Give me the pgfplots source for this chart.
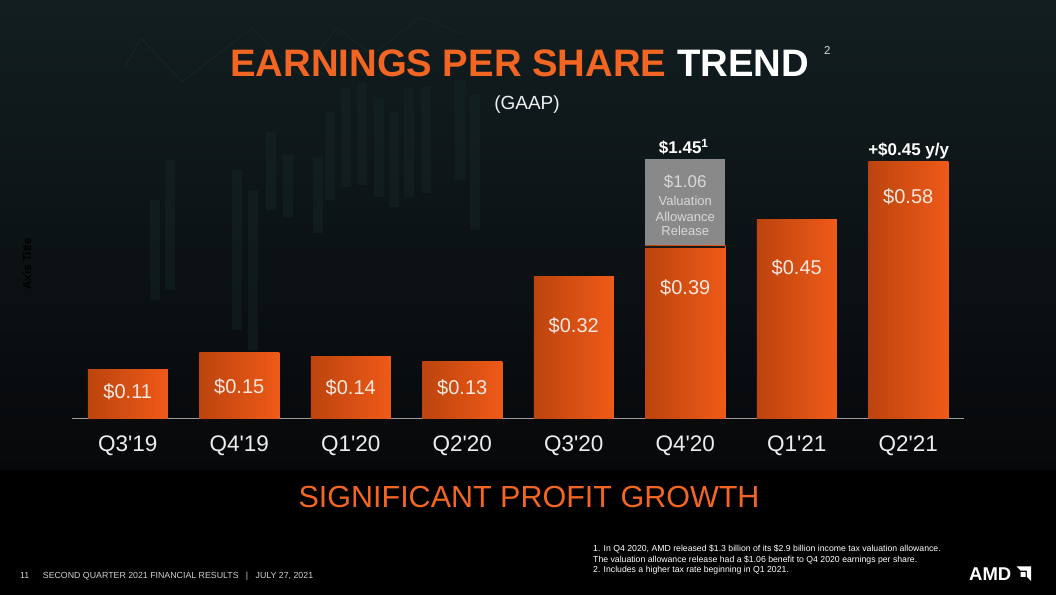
\documentclass[border=0pt]{standalone}
\usepackage{pgfplots}
\pgfplotsset{compat=1.18}
\usepackage{pgfplotstable}
\usepackage{fontspec}
\setmainfont{Liberation Sans}
\definecolor{amdorange}{HTML}{F26522}
\definecolor{barL}{HTML}{BC440E}
\definecolor{barR}{HTML}{EF5A18}
\definecolor{relgray}{HTML}{898989}
\definecolor{reltext}{HTML}{D8D8D8}
\definecolor{lbltext}{HTML}{F7E9E1}
\definecolor{bgtop}{HTML}{121E20}
\definecolor{bgbot}{HTML}{07080A}
\definecolor{candle}{HTML}{172829}
\definecolor{axgray}{HTML}{9C9C9C}
\definecolor{footgray}{HTML}{D0D0D0}
\definecolor{sepc}{HTML}{1A1A1A}
\newcommand\fs[1]{\fontsize{#1bp}{#1bp}\selectfont}

\pgfplotstableread{
x eps lby
0 0.11 0.0445
1 0.15 0.0558
2 0.14 0.0550
3 0.13 0.0550
4 0.32 0.1940
5 0.39 0.2810
6 0.45 0.3266
7 0.58 0.4850
}\epsdata
\pgfplotstableread{
x top
5 0.5864
}\reldata

\begin{document}
\begin{tikzpicture}[x=1bp,y=1bp]
\fill[black] (0,0) rectangle (1056,595);
\shade[top color=bgtop, bottom color=bgbot] (0,125) rectangle (1056,595);
% faint decorative background
\foreach \xa/\ya/\yb in {266/132/210, 283/155/217, 313/157/233, 325/112/200, 341/88/187, 357/83/185, 374/98/197, 389/112/207, 404/88/197, 421/87/193, 455/80/180, 470/95/230, 150/200/300, 165/160/290, 232/170/330, 248/190/350}{
  \fill[candle, opacity=0.4] (\xa,595-\ya) rectangle (\xa+10,595-\yb);
}
\draw[candle, opacity=0.7, line width=1bp] (125,528) -- (141,557) -- (182,513) -- (252,567) -- (300,520) -- (337,567) -- (372,540) -- (420,578) -- (465,560);

\begin{axis}[
  at={(72bp,176.3bp)}, anchor=south west,
  scale only axis, width=892bp, height=265.8bp,
  xmin=-0.5, xmax=7.5, ymin=0, ymax=0.6,
  clip=false,
  axis y line=none, axis x line*=bottom,
  x axis line style={draw=axgray, line width=1.5bp, -},
  xtick={0,...,7},
  xticklabels={Q3\textquotesingle19, Q4\textquotesingle19, Q1\textquotesingle20, Q2\textquotesingle20, Q3\textquotesingle20, Q4\textquotesingle20, Q1\textquotesingle21, Q2\textquotesingle21},
  major tick length=0pt,
  xticklabel style={font=\fs{22.5}, text=white!93!black, anchor=base, yshift=-33bp},
  ytick=\empty,
  /pgf/number format/assume math mode=true,
]
\addplot[ybar, bar width=80bp, bar shift=0pt, draw=none, fill=relgray] table[x=x,y=top]{\reldata};
\pgfplotsinvokeforeach{0,...,7}{
  \addplot[ybar, bar width=80bp, bar shift=0pt, draw=none, left color=barL, right color=barR,
    restrict x to domain=#1:#1] table[x=x,y=eps]{\epsdata};
}
\draw[sepc, line width=2.3bp] (axis cs:4.641,0.3875) -- (axis cs:5.359,0.3875);
\addplot[draw=none, mark=none, point meta=explicit,
  nodes near coords={\$\pgfmathprintnumber[fixed,precision=2,fixed zerofill]{\pgfplotspointmeta}},
  every node near coord/.append style={anchor=base, font=\fs{20}, text=lbltext, inner sep=0pt}]
  table[x=x,y=lby,meta=eps]{\epsdata};
\node[anchor=base, inner sep=0pt, font=\fs{17}, text=reltext] at (axis cs:5,0.5208) {\$1.06};
\node[anchor=base, inner sep=0pt, font=\fs{13}, text=reltext] at (axis cs:5,0.4808) {Valuation};
\node[anchor=base, inner sep=0pt, font=\fs{13}, text=reltext] at (axis cs:5,0.4447) {Allowance};
\node[anchor=base, inner sep=0pt, font=\fs{13}, text=reltext] at (axis cs:5,0.4124) {Release};
\node[anchor=base west, inner sep=0pt, font=\bfseries\fs{17}, text=white] at (axis cs:4.762,0.599) {\$1.45\textsuperscript{1}};
\node[anchor=base, inner sep=0pt, font=\bfseries\fs{17}, text=white] at (axis cs:7.004,0.595) {+\$0.45 y/y};
\end{axis}

% titles
\node[anchor=base west, inner sep=0pt, font=\bfseries\fs{38.3}] at (230,518.3) {\color{amdorange}EARNINGS PER SHARE \color{white}TREND};
\node[anchor=base west, inner sep=0pt, font=\fs{11.5}, text=white!85!black] at (824,540) {2};
\node[anchor=base, inner sep=0pt, font=\fs{19}, text=white!94!black] at (527,485) {(GAAP)};
\node[anchor=base, inner sep=0pt, font=\fs{30.5}, text=amdorange] at (529,87) {SIGNIFICANT PROFIT GROWTH};
\node[rotate=90, inner sep=0pt, font=\bfseries\fs{11.5}, text=black] at (27,331) {Axis Title};

% footer
\node[anchor=base west, inner sep=0pt, font=\fs{8.8}, text=footgray] at (20,16.5) {11};
\node[anchor=base west, inner sep=0pt, font=\fs{8.8}, text=footgray] at (42.7,16.5) {SECOND QUARTER 2021 FINANCIAL RESULTS \ \ | \ \ JULY 27, 2021};
\node[anchor=base west, inner sep=0pt, font=\fs{8.7}, text=white] at (593,43.5) {1. In Q4 2020, AMD released \$1.3 billion of its \$2.9 billion income tax valuation allowance.};
\node[anchor=base west, inner sep=0pt, font=\fs{8.7}, text=white] at (593,32) {The valuation allowance release had a \$1.06 benefit to Q4 2020 earnings per share.};
\node[anchor=base west, inner sep=0pt, font=\fs{8.7}, text=white] at (593,22) {2. Includes a higher tax rate beginning in Q1 2021.};
\node[anchor=base west, inner sep=0pt, font=\bfseries\fs{18.5}, text=white] at (969,14) {AMD};
\begin{scope}[shift={(1016.5,14)}, x=14.5bp, y=14.5bp]
  \fill[white] (0,1) -- (1,1) -- (1,0) -- (0.71,0.29) -- (0.71,0.71) -- (0.29,0.71) -- cycle;
  \fill[white] (0.29,0.62) -- (0.62,0.62) -- (0.62,0.29) -- (0.29,0.29) -- (0.29,0.45) -- cycle;
\end{scope}
\pgfresetboundingbox
\path[use as bounding box] (0,0) rectangle (1056,595);
\end{tikzpicture}
\end{document}
